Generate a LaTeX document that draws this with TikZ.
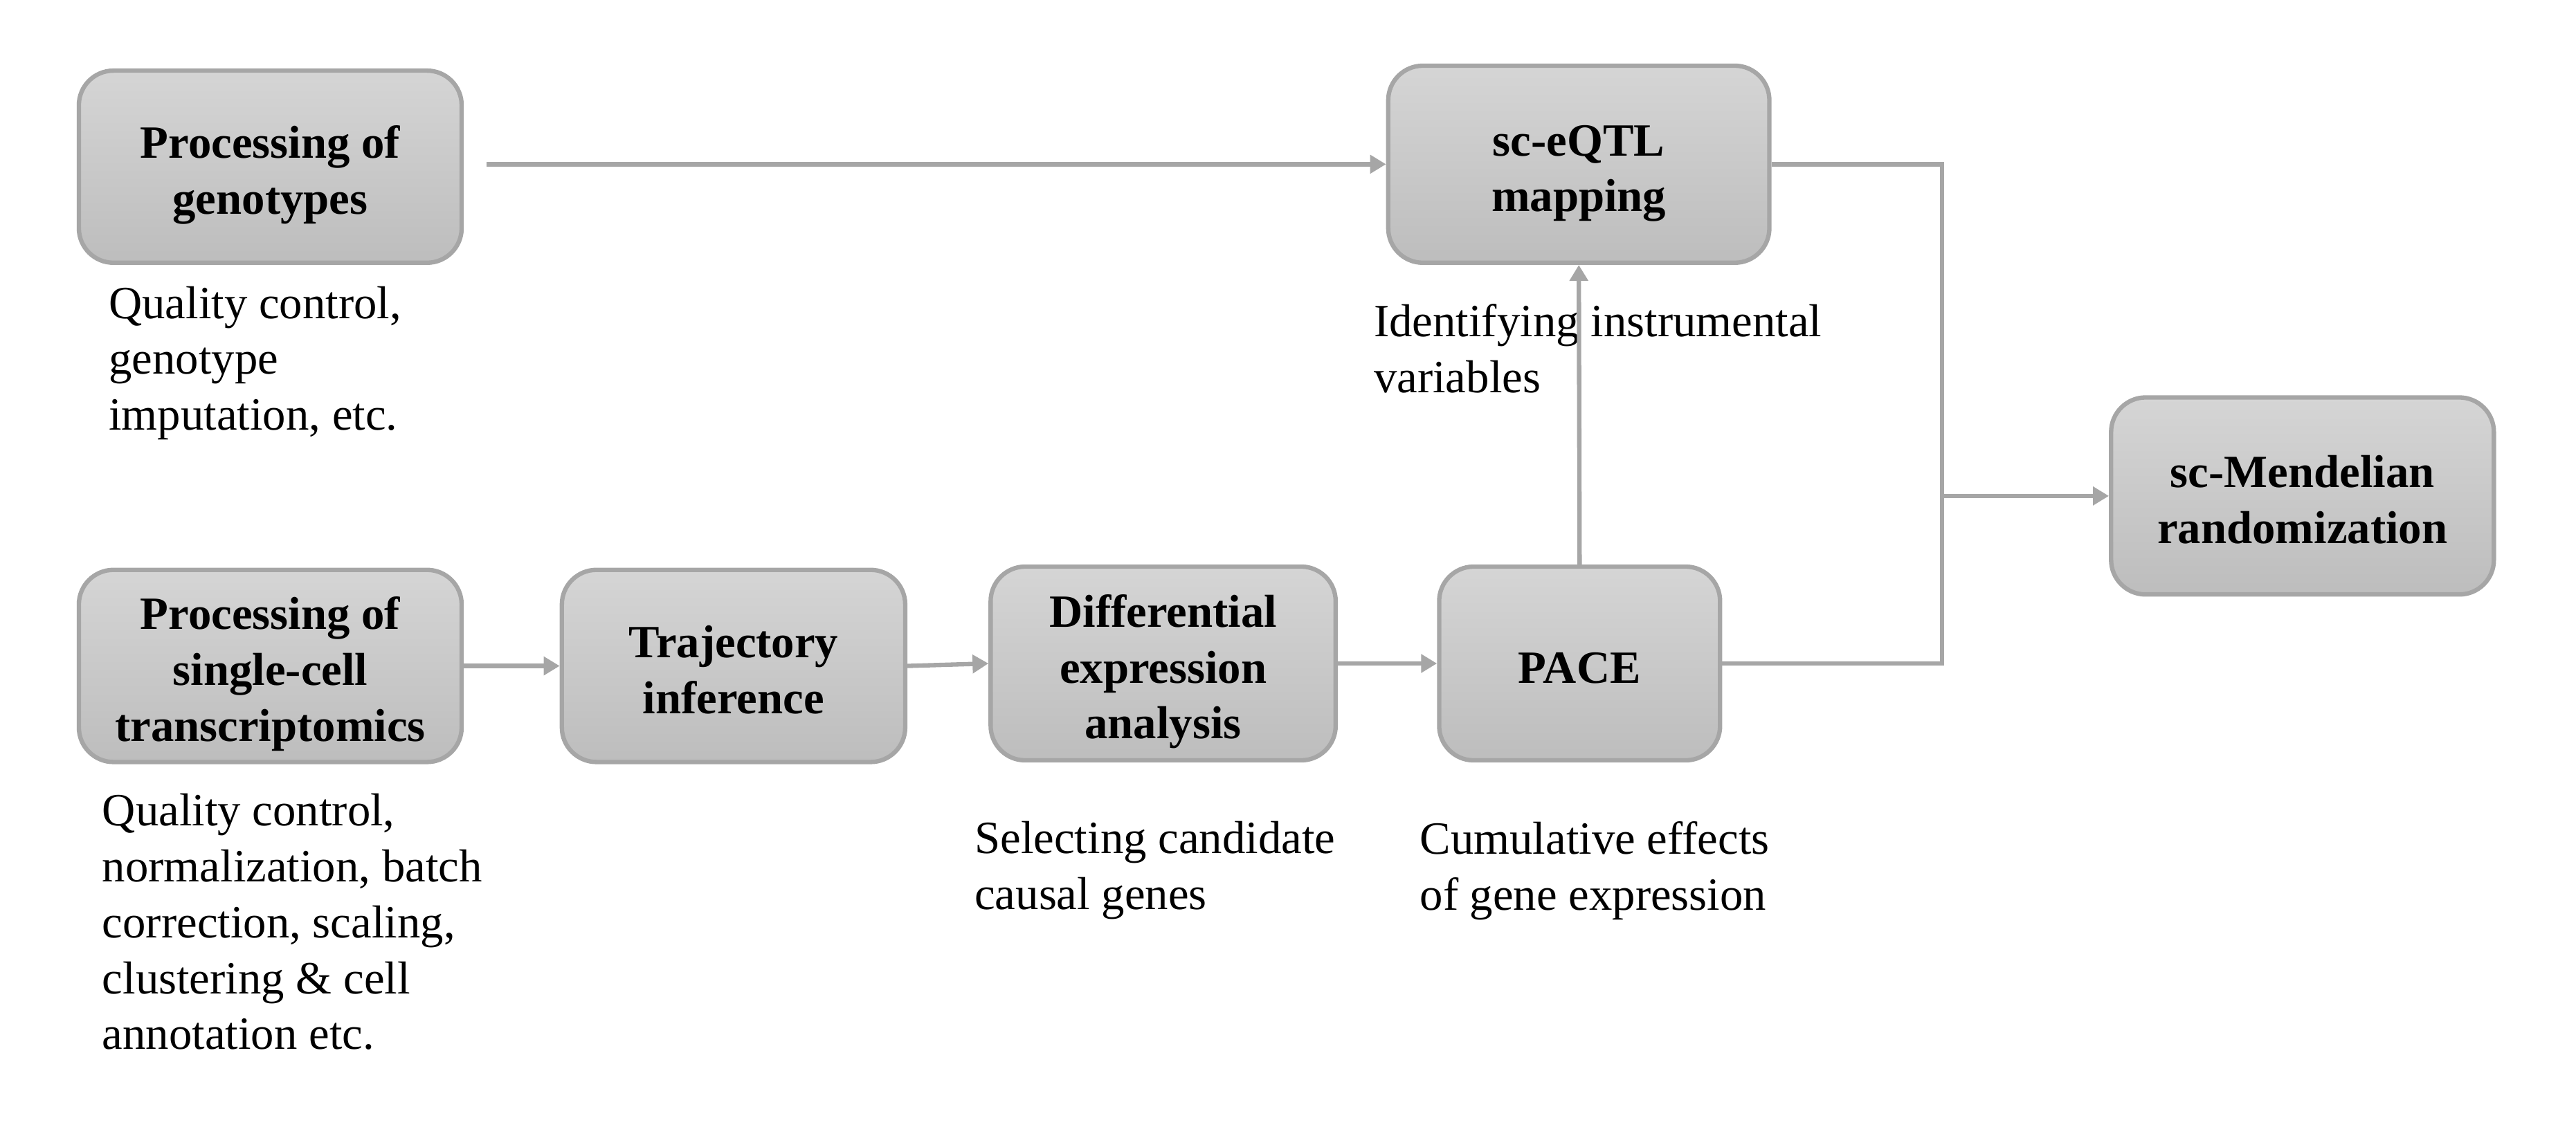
\documentclass[tikz,border=0pt]{standalone}
\usepackage{fontspec}
\setmainfont{Liberation Serif}
\usetikzlibrary{arrows.meta,calc}
\definecolor{boxtop}{HTML}{D5D5D5}
\definecolor{boxbot}{HTML}{BDBDBD}
\definecolor{edge}{HTML}{A6A6A6}
\newcommand\tstr{\rule{0pt}{21pt}}
\newcommand\bstr{\rule[-5pt]{0pt}{5pt}}
\begin{document}
\begin{tikzpicture}[x=0.023737cm,y=-0.023737cm,
  procbox/.style={draw=edge, line width=1.8pt, rounded corners=0.5cm,
    top color=boxtop, bottom color=boxbot, align=center,
    font=\fontsize{19}{23}\selectfont\bfseries, inner sep=0pt},
  note/.style={anchor=north west, align=left, inner sep=0pt,
    font=\fontsize{19}{23}\selectfont},
  conn/.style={draw=edge, line width=1.8pt},
  arr/.style={conn, -{Triangle[length=0.23cm,width=0.26cm]}}]
\useasboundingbox (0,0) rectangle (1568,686);
\node[procbox, minimum width=233*0.023737cm, minimum height=117*0.023737cm] (G) at (164.5,101.5) {\tstr Processing of\\genotypes\bstr};
\node[procbox, minimum width=232*0.023737cm, minimum height=120*0.023737cm] (Q) at (961,100) {\tstr sc-eQTL\\mapping\bstr};
\node[procbox, minimum width=233*0.023737cm, minimum height=117*0.023737cm] (S) at (164.5,405.5) {\tstr Processing of\\single-cell\\transcriptomics\bstr};
\node[procbox, minimum width=209*0.023737cm, minimum height=117*0.023737cm] (T) at (446.5,405.5) {\tstr Trajectory\\inference\bstr};
\node[procbox, minimum width=210*0.023737cm, minimum height=118*0.023737cm] (D) at (708,404) {\tstr Differential\\expression\\analysis\bstr};
\node[procbox, minimum width=171*0.023737cm, minimum height=118*0.023737cm] (P) at (961.5,404) {\tstr PACE\bstr};
\node[procbox, minimum width=233*0.023737cm, minimum height=120*0.023737cm] (M) at (1401.5,302) {\tstr sc-Mendelian\\randomization\bstr};
\coordinate (J) at (1182,302);

\node[note] (nG) at (66,174) {Quality control,\\genotype\\imputation, etc.};
\node[note] (nS) at (62,483) {Quality control,\\normalization, batch\\correction, scaling,\\clustering \& cell\\annotation etc.};
\node[note] (nD) at (593,500) {Selecting candidate\\causal genes};
\node[note] (nP) at (864,500) {Cumulative effects\\of gene expression};
\node[note] (nQ) at (836,185) {Identifying instrumental\\variables};

\draw[arr] ([xshift=14*0.023737cm]G.east |- Q.west) -- (Q.west);
\draw[arr] (S.east) -- (T.west);
\draw[arr] (T.east) -- (D.west);
\draw[arr] (D.east) -- (P.west);
\draw[arr] (P.north) -- (Q.south);
\draw[conn] (Q.east) -| (J) |- (P.east);
\draw[arr] (J) -- (M.west);
\end{tikzpicture}
\end{document}
